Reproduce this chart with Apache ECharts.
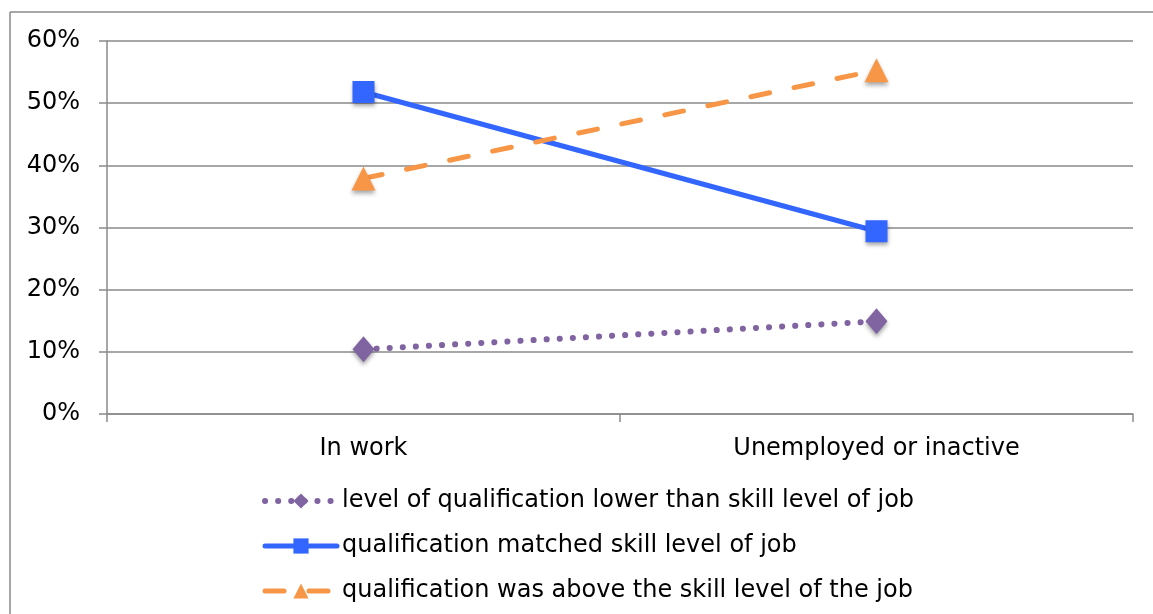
<!DOCTYPE html>
<html>
<head>
<meta charset="utf-8">
<script src="https://cdn.jsdelivr.net/npm/echarts@6/dist/echarts.min.js"></script>
<style>
  html, body { margin: 0; padding: 0; background: #ffffff; overflow: hidden; }
  #chart { width: 1153px; height: 614px; }
</style>
</head>
<body>
<div id="chart"></div>
<script>
// Employment status groups on the category axis
const categories = ['In work', 'Unemployed or inactive'];

// Share of people (%) in each group by how their qualification compares with the job
const seriesNames = [
  'level of qualification lower than skill level of job',
  'qualification matched skill level of job',
  'qualification was above the skill level of the job'
];
const lowerValues = [10.4, 14.9];
const matchedValues = [51.8, 29.4];
const aboveValues = [37.9, 55.3];

// Value-axis range (percent)
const yMin = 0;
const yMax = 60;
const yStep = 10;

const FONT = 'DejaVu Sans';
const FONT_SIZE = 24;
const AXIS_GREY = '#8a8a8a';
const markerShadow = {
  shadowColor: 'rgba(0,0,0,0.35)',
  shadowBlur: 4,
  shadowOffsetX: 0,
  shadowOffsetY: 3
};

const styles = [
  { color: '#8064a2', symbol: 'diamond', size: [22, 26], line: { width: 6, type: [0.1, 13] } },
  { color: '#3366ff', symbol: 'rect', size: 22, line: { width: 5, type: 'solid' } },
  { color: '#f79646', symbol: 'triangle', size: [24, 24], line: { width: 5, type: [19, 25] } }
];
const valueSets = [lowerValues, matchedValues, aboveValues];

const chart = echarts.init(document.getElementById('chart'), null, { renderer: 'canvas' });

chart.setOption({
  animation: false,
  backgroundColor: '#ffffff',
  textStyle: { fontFamily: FONT, color: '#000000' },
  // outer frame: top and left edges of the surrounding box
  graphic: [
    {
      type: 'line',
      silent: true,
      shape: { x1: 10, y1: 12, x2: 1153, y2: 12 },
      style: { stroke: AXIS_GREY, lineWidth: 1.5 }
    },
    {
      type: 'line',
      silent: true,
      shape: { x1: 10, y1: 12, x2: 10, y2: 614 },
      style: { stroke: AXIS_GREY, lineWidth: 1.5 }
    }
  ],
  grid: { left: 107, right: 20, top: 41, bottom: 200, containLabel: false },
  legend: {
    orient: 'vertical',
    left: 257,
    top: 484,
    itemWidth: 72,
    itemHeight: 19,
    itemGap: 21,
    textStyle: { fontFamily: FONT, fontSize: FONT_SIZE, color: '#000000' },
    data: seriesNames.map((name, i) => ({
      name: name,
      itemStyle: { color: styles[i].color },
      lineStyle: { color: styles[i].color, width: styles[i].line.width, type: styles[i].line.type, cap: 'round' }
    }))
  },
  xAxis: {
    type: 'category',
    data: categories,
    boundaryGap: true,
    axisLine: { show: true, lineStyle: { color: AXIS_GREY, width: 1.5 } },
    axisTick: { show: true, length: 8, lineStyle: { color: AXIS_GREY, width: 1.5 } },
    axisLabel: { fontFamily: FONT, fontSize: FONT_SIZE, color: '#000000', margin: 23 },
    splitLine: { show: false }
  },
  yAxis: {
    type: 'value',
    min: yMin,
    max: yMax,
    interval: yStep,
    axisLine: { show: true, lineStyle: { color: AXIS_GREY, width: 1.5 } },
    axisTick: { show: true, inside: false, length: 8, lineStyle: { color: AXIS_GREY, width: 1.5 } },
    axisLabel: { fontFamily: FONT, fontSize: FONT_SIZE, color: '#000000', margin: 27, formatter: '{value}%' },
    splitLine: { show: true, lineStyle: { color: AXIS_GREY, width: 1.5 } }
  },
  series: seriesNames.map((name, i) => ({
    name: name,
    type: 'line',
    data: valueSets[i],
    symbol: styles[i].symbol,
    symbolSize: styles[i].size,
    color: styles[i].color,
    lineStyle: { color: styles[i].color, width: styles[i].line.width, type: styles[i].line.type, cap: 'round' },
    itemStyle: Object.assign({ color: styles[i].color }, markerShadow),
    z: 3 + i
  }))
});
</script>
</body>
</html>
